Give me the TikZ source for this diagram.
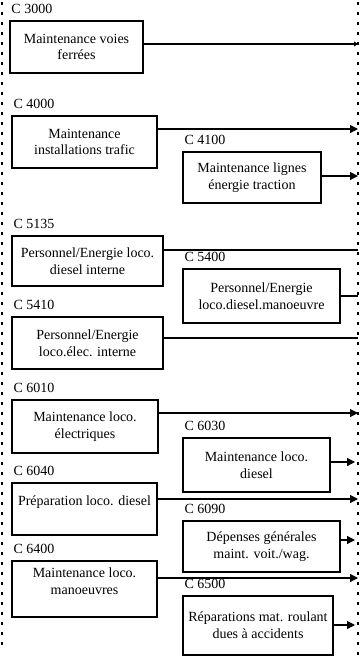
\documentclass[tikz,border=0pt]{standalone}
\usepackage{fontspec}
\setmainfont{Liberation Serif}
\usetikzlibrary{arrows.meta}
\begin{document}
\begin{tikzpicture}[x=1pt,y=-1pt,
  box/.style={draw,line width=1.4pt,inner sep=0pt,align=center,
    font=\fontsize{14}{16.8}\selectfont},
  code/.style={inner sep=0pt,anchor=south west,xshift=2pt,yshift=6pt,
    font=\fontsize{14}{16}\selectfont},
  flow/.style={line width=1.2pt},
  flowarr/.style={line width=1.2pt,-{Triangle[length=8pt,width=8pt]}},
  border/.style={line width=1.8pt,dash pattern=on 3pt off 7pt}]
\useasboundingbox (0,0) rectangle (362,657);

% dotted frame lines
\draw[border] (2,2) -- (2,648);
\draw[border] (358,2) -- (358,657);

% cost centre boxes
\node[box,minimum width=133pt,minimum height=52pt] (b1) at (76.5,47) {Maintenance voies\\ferrées};
\node[box,minimum width=145pt,minimum height=52pt] (b2) at (84.5,142) {Maintenance\\installations trafic};
\node[box,minimum width=138pt,minimum height=51pt] (b3) at (252,177.5) {Maintenance lignes\\énergie traction};
\node[box,minimum width=151pt,minimum height=50pt] (b4) at (87.5,261) {Personnel/Energie loco.\\diesel interne};
\node[box,minimum width=157pt,minimum height=54pt] (b5) at (261.5,296) {Personnel/Energie\\loco.diesel.manoeuvre};
\node[box,minimum width=151pt,minimum height=52pt] (b6) at (87.5,343) {Personnel/Energie\\loco.élec. interne};
\node[box,minimum width=146pt,minimum height=53pt] (b7) at (85,426.5) {Maintenance loco.\\électriques};
\node[box,minimum width=147pt,minimum height=54pt] (b8) at (256.5,465) {Maintenance loco.\\diesel};
\node[box,minimum width=145pt,minimum height=52pt] (b9) at (84.5,509) {Préparation loco. diesel\\~};
\node[box,minimum width=157pt,minimum height=51pt] (b10) at (261.5,546.5) {Dépenses générales\\maint. voit./wag.};
\node[box,minimum width=145pt,minimum height=56pt] (b11) at (84.5,589) {Maintenance loco.\\manoeuvres\\[-1pt]~};
\node[box,minimum width=150pt,minimum height=59pt] (b12) at (258,625.5) {Réparations mat. roulant\\dues à accidents};

% codes above the boxes
\node[code] (c1) at (b1.north west) {C 3000};
\node[code] (c2) at (b2.north west) {C 4000};
\node[code] (c3) at (b3.north west) {C 4100};
\node[code] (c4) at (b4.north west) {C 5135};
\node[code] (c5) at (b5.north west) {C 5400};
\node[code] (c6) at (b6.north west) {C 5410};
\node[code] (c7) at (b7.north west) {C 6010};
\node[code] (c8) at (b8.north west) {C 6030};
\node[code] (c9) at (b9.north west) {C 6040};
\node[code] (c10) at (b10.north west) {C 6090};
\node[code] (c11) at (b11.north west) {C 6400};
\node[code] (c12) at (b12.north west) {C 6500};

% ends of the flows on the right frame
\coordinate (e1) at (358,44);
\coordinate (e2) at (358,129);
\coordinate (e3) at (358,176);
\coordinate (e4) at (358,250);
\coordinate (e5) at (358,296);
\coordinate (e6) at (358,338);
\coordinate (e7) at (358,413);
\coordinate (e8) at (355,462);
\coordinate (e9) at (358,499);
\coordinate (e10) at (355,540);
\coordinate (e11) at (358,578);
\coordinate (e12) at (355,625);

% flows
\draw[line width=1.2pt,-{Triangle[length=4pt,width=5pt]}] (b1.east |- e1) -- (e1);
\draw[flowarr] (b2.east |- e2) -- (e2);
\draw[flowarr] (b3.east |- e3) -- (e3);
\draw[flow] (b4.east |- e4) -- (e4);
\draw[flow] (b5.east |- e5) -- (e5);
\draw[flow] (b6.east |- e6) -- (e6);
\draw[flowarr] (b7.east |- e7) -- (e7);
\draw[flowarr] (b8.east |- e8) -- (e8);
\draw[flowarr] (b9.east |- e9) -- (e9);
\draw[flowarr] (b10.east |- e10) -- (e10);
\draw[flowarr] (b11.east |- e11) -- (e11);
\draw[flowarr] (b12.east |- e12) -- (e12);
\end{tikzpicture}
\end{document}
